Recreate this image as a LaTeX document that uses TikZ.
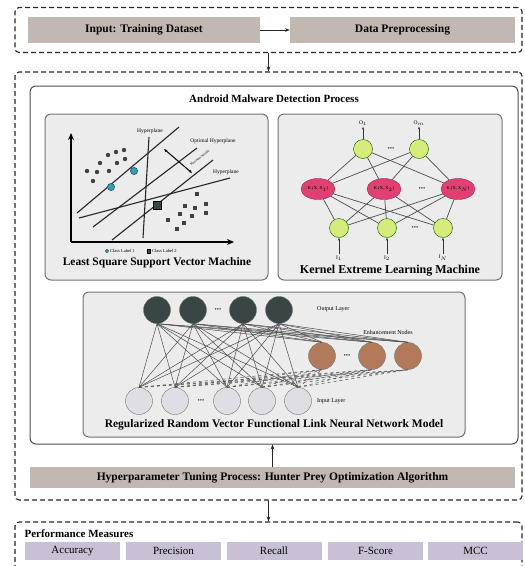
\documentclass[tikz,border=0pt]{standalone}
\usepackage{fontspec}
\setmainfont{Liberation Serif}
\usepackage{tikz}
\usetikzlibrary{arrows.meta, positioning, shapes.geometric, calc}
\definecolor{StageColor}{RGB}{192,184,177}
\definecolor{MeasureColor}{RGB}{202,192,214}
\definecolor{PanelColor}{RGB}{236,236,236}
\definecolor{LimeColor}{RGB}{214,236,122}
\definecolor{KernelColor}{RGB}{226,64,114}
\definecolor{SlateColor}{RGB}{58,70,70}
\definecolor{CopperColor}{RGB}{178,122,90}
\definecolor{MistColor}{RGB}{222,222,228}
\definecolor{TealColor}{RGB}{40,160,190}

\begin{document}
\begin{tikzpicture}[x=1pt, y=-1pt,
    group/.style={draw=black!85, line width=1.1pt, dash pattern=on 5pt off 3pt, rounded corners=4pt},
    stage/.style={fill=StageColor, minimum height=26pt, font=\fontsize{11.5}{12}\selectfont\bfseries},
    measure/.style={fill=MeasureColor, minimum width=95pt, minimum height=18pt, font=\fontsize{11}{12}\selectfont},
    panel/.style={draw=black!55, line width=1pt, rounded corners=6pt, fill=PanelColor},
    title/.style={font=\fontsize{11.5}{13}\selectfont\bfseries},
    tiny/.style={font=\fontsize{5.5}{6}\selectfont, inner sep=1pt},
    dots/.style={font=\fontsize{6.5}{6.5}\selectfont, inner sep=0pt, text=black!80},
    arrow/.style={-{Stealth[length=5pt]}, thick, black!85},
    small arrow/.style={-{Stealth[length=3pt]}, line width=0.8pt, black!80},
    axis/.style={-{Stealth[length=7pt, width=6pt]}, line width=1.6pt},
    hyper/.style={line width=1.1pt, black!85},
    lime/.style={circle, draw=green!35!black, fill=LimeColor, minimum size=19pt, inner sep=0pt},
    kernel/.style={ellipse, draw=KernelColor!70!black, fill=KernelColor, minimum width=34pt, minimum height=21pt, inner sep=0pt, font=\fontsize{4.5}{5}\selectfont},
    neuron/.style={circle, draw=black!55, minimum size=27pt, inner sep=0pt},
    link/.style={black!70, line width=0.5pt}
]
  \useasboundingbox (0,0) rectangle (525,566);
  \newcommand{\ellip}{\textbullet\textbullet\textbullet}

  % dashed stage groups
  \node[group, minimum width=507pt, minimum height=45pt] (top) at (268.5,30) {};
  \node[group, minimum width=507pt, minimum height=428pt] (detect) at (268.5,286) {};
  \node[group, minimum width=507pt, minimum height=70pt] (perf) at (268.5,557) {};

  \node[stage, minimum width=232pt] (input) at (144,30) {Input: Training Dataset};
  \node[stage, minimum width=225pt] (prep) at (402.5,30) {Data Preprocessing};
  \draw[arrow] (input) -- (prep);
  \draw[arrow] (top) -- (detect);

  % detection process
  \node[draw=black!70, line width=1pt, rounded corners=6pt, fill=white, minimum width=488pt, minimum height=358pt] (android) at (274,265) {};
  \node[font=\fontsize{11}{12}\selectfont\bfseries] (atitle) at (274,99) {Android Malware Detection Process};

  \node[panel, minimum width=223pt, minimum height=166pt] (lssvm) at (156.5,197) {};
  \node[panel, minimum width=224pt, minimum height=166pt] (kelm) at (390,197) {};
  \node[panel, minimum width=382pt, minimum height=145pt] (rvfl) at (274,364.5) {};

  % LSSVM
  \coordinate (orig) at (71,242);
  \draw[axis] (orig) -- (71,133);
  \draw[axis] (orig) -- (234,242);
  \draw[hyper] (77,213) -- (179,127);
  \draw[hyper] (93,227) -- (197,148);
  \draw[hyper] (112,240) -- (213,160);
  \draw[hyper] (149,137) -- (143,238);
  \draw[hyper] (79,218) -- (230,178);
  \draw[{Stealth[length=3.5pt]}-{Stealth[length=3.5pt]}, line width=1pt] (164,149) -- (192,173);
  \node[tiny] (hp1) at (150,131) {Hyperplane};
  \node[tiny] (hp2) at (213,141) {Optimal Hyperplane};
  \node[tiny] (hp3) at (226,172) {Hyperplane};
  \node[tiny, rotate=38, inner sep=0pt, font=\fontsize{3.2}{3.5}\selectfont] (mm) at (200,158) {Maximum Margin};
  \foreach \p in {(108,155),(116,152),(124,150),(100,163),(117,163),(125,159),(87,171),(97,172),(109,171),(93,181)}
    \fill[black!75] \p circle[radius=2.2pt];
  \foreach \p in {(197,194),(185,206),(195,208),(206,204),(180,214),(192,216),(206,213),(168,220),(184,223),(177,229)}
    \fill[black!75] \p ++(-2,-2) rectangle ++(4,4);
  \foreach \p in {(134,171),(111,187)}
    \filldraw[fill=TealColor, draw=black!70, line width=0.6pt] \p circle[radius=3.6pt];
  \filldraw[fill=SlateColor, draw=black, line width=0.6pt] (153,201) rectangle (161,209);
  \filldraw[fill=TealColor, draw=black!70] (107,251) circle[radius=1.8pt];
  \node[tiny, anchor=west, font=\fontsize{4.5}{5}\selectfont] (cl1) at (109,251) {Class Label 1};
  \filldraw[fill=SlateColor, draw=black] (147,249.2) rectangle (150.6,252.8);
  \node[tiny, anchor=west, font=\fontsize{4.5}{5}\selectfont] (cl2) at (151,251) {Class Label 2};
  \node[title] (ltitle) at (157,263) {Least Square Support Vector Machine};

  % KELM
  \node[lime] (o1) at (363,149) {};
  \node[lime] (o2) at (419,149) {};
  \node[dots] at (391,149) {\ellip};
  \node[kernel] (h1) at (318,189) {K (X, X$_1$)};
  \node[kernel] (h2) at (384,189) {K (X, X$_2$)};
  \node[kernel] (h3) at (458,189) {K (X, X$_N$)};
  \node[dots] at (422,189) {\ellip};
  \node[lime] (i1) at (339,228) {};
  \node[lime] (i2) at (387,228) {};
  \node[lime] (i3) at (443,228) {};
  \node[dots] at (415,228) {\ellip};
  \foreach \a in {i1,i2,i3}
    \foreach \b in {h1,h2,h3}
      \draw[link, line width=0.7pt] (\a) -- (\b);
  \foreach \a in {h1,h2,h3}
    \foreach \b in {o1,o2}
      \draw[link, line width=0.7pt] (\a) -- (\b);
  \node[tiny] (ol1) at (363,123) {O$_1$};
  \node[tiny] (ol2) at (419,123) {O$_m$};
  \draw[small arrow] (o1) -- (ol1);
  \draw[small arrow] (o2) -- (ol2);
  \node[tiny] (il1) at (339,258) {I$_1$};
  \node[tiny] (il2) at (387,258) {I$_2$};
  \node[tiny] (il3) at (443,258) {I$_N$};
  \draw[small arrow] (il1) -- (i1);
  \draw[small arrow] (il2) -- (i2);
  \draw[small arrow] (il3) -- (i3);
  \node[title, font=\fontsize{12}{13}\selectfont\bfseries] (ktitle) at (390,271) {Kernel Extreme Learning Machine};

  % RRVFL
  \foreach \n/\x in {y1/157, y2/193, y3/243, y4/279}
    \node[neuron, fill=SlateColor] (\n) at (\x,310) {};
  \foreach \n/\x in {e1/322, e2/372, e3/408}
    \node[neuron, fill=CopperColor] (\n) at (\x,356) {};
  \foreach \n/\x in {x1/139, x2/175, x3/227, x4/262, x5/298}
    \node[neuron, fill=MistColor] (\n) at (\x,401) {};
  \node[dots] at (218,310) {\ellip};
  \node[dots] at (347,356) {\ellip};
  \node[dots] at (201,401) {\ellip};
  \foreach \a in {x1,x2,x3,x4,x5}
    \foreach \b in {y1,y2,y3,y4}
      \draw[link] (\a.north) -- (\b.south);
  \foreach \a in {e1,e2,e3}
    \foreach \b in {y1,y2,y3,y4}
      \draw[link] (\a.north) -- (\b.south);
  \foreach \a in {x1,x2,x3,x4,x5}
    \foreach \b in {e1,e2,e3}
      \draw[link, dashed] (\a.north) -- (\b.south);
  \node[tiny, anchor=west, font=\fontsize{6}{7}\selectfont] (outl) at (316,309) {Output Layer};
  \node[tiny, font=\fontsize{6}{7}\selectfont] (enhl) at (388,332) {Enhancement Nodes};
  \node[tiny, anchor=west, font=\fontsize{6}{7}\selectfont] (inl) at (316,401) {Input Layer};
  \node[font=\fontsize{11.5}{13}\selectfont\bfseries] (rtitle) at (274,425) {Regularized Random Vector Functional Link Neural Network Model};

  % tuning and measures
  \node[stage, minimum width=485pt, minimum height=21pt] (hpo) at (272.5,477.5) {Hyperparameter Tuning Process: Hunter Prey Optimization Algorithm};
  \draw[arrow] (hpo.north) -- (hpo.north |- android.south);
  \draw[arrow] (detect) -- (perf);

  \node[font=\fontsize{11}{12}\selectfont\bfseries, anchor=west] (pm) at (21,534) {Performance Measures};
  \foreach \n/\x/\t in {m1/72.5/Accuracy, m2/173.5/Precision, m3/274/Recall, m4/375.5/F-Score, m5/475.5/MCC}
    \node[measure] (\n) at (\x,551) {\t};
\end{tikzpicture}
\end{document}
